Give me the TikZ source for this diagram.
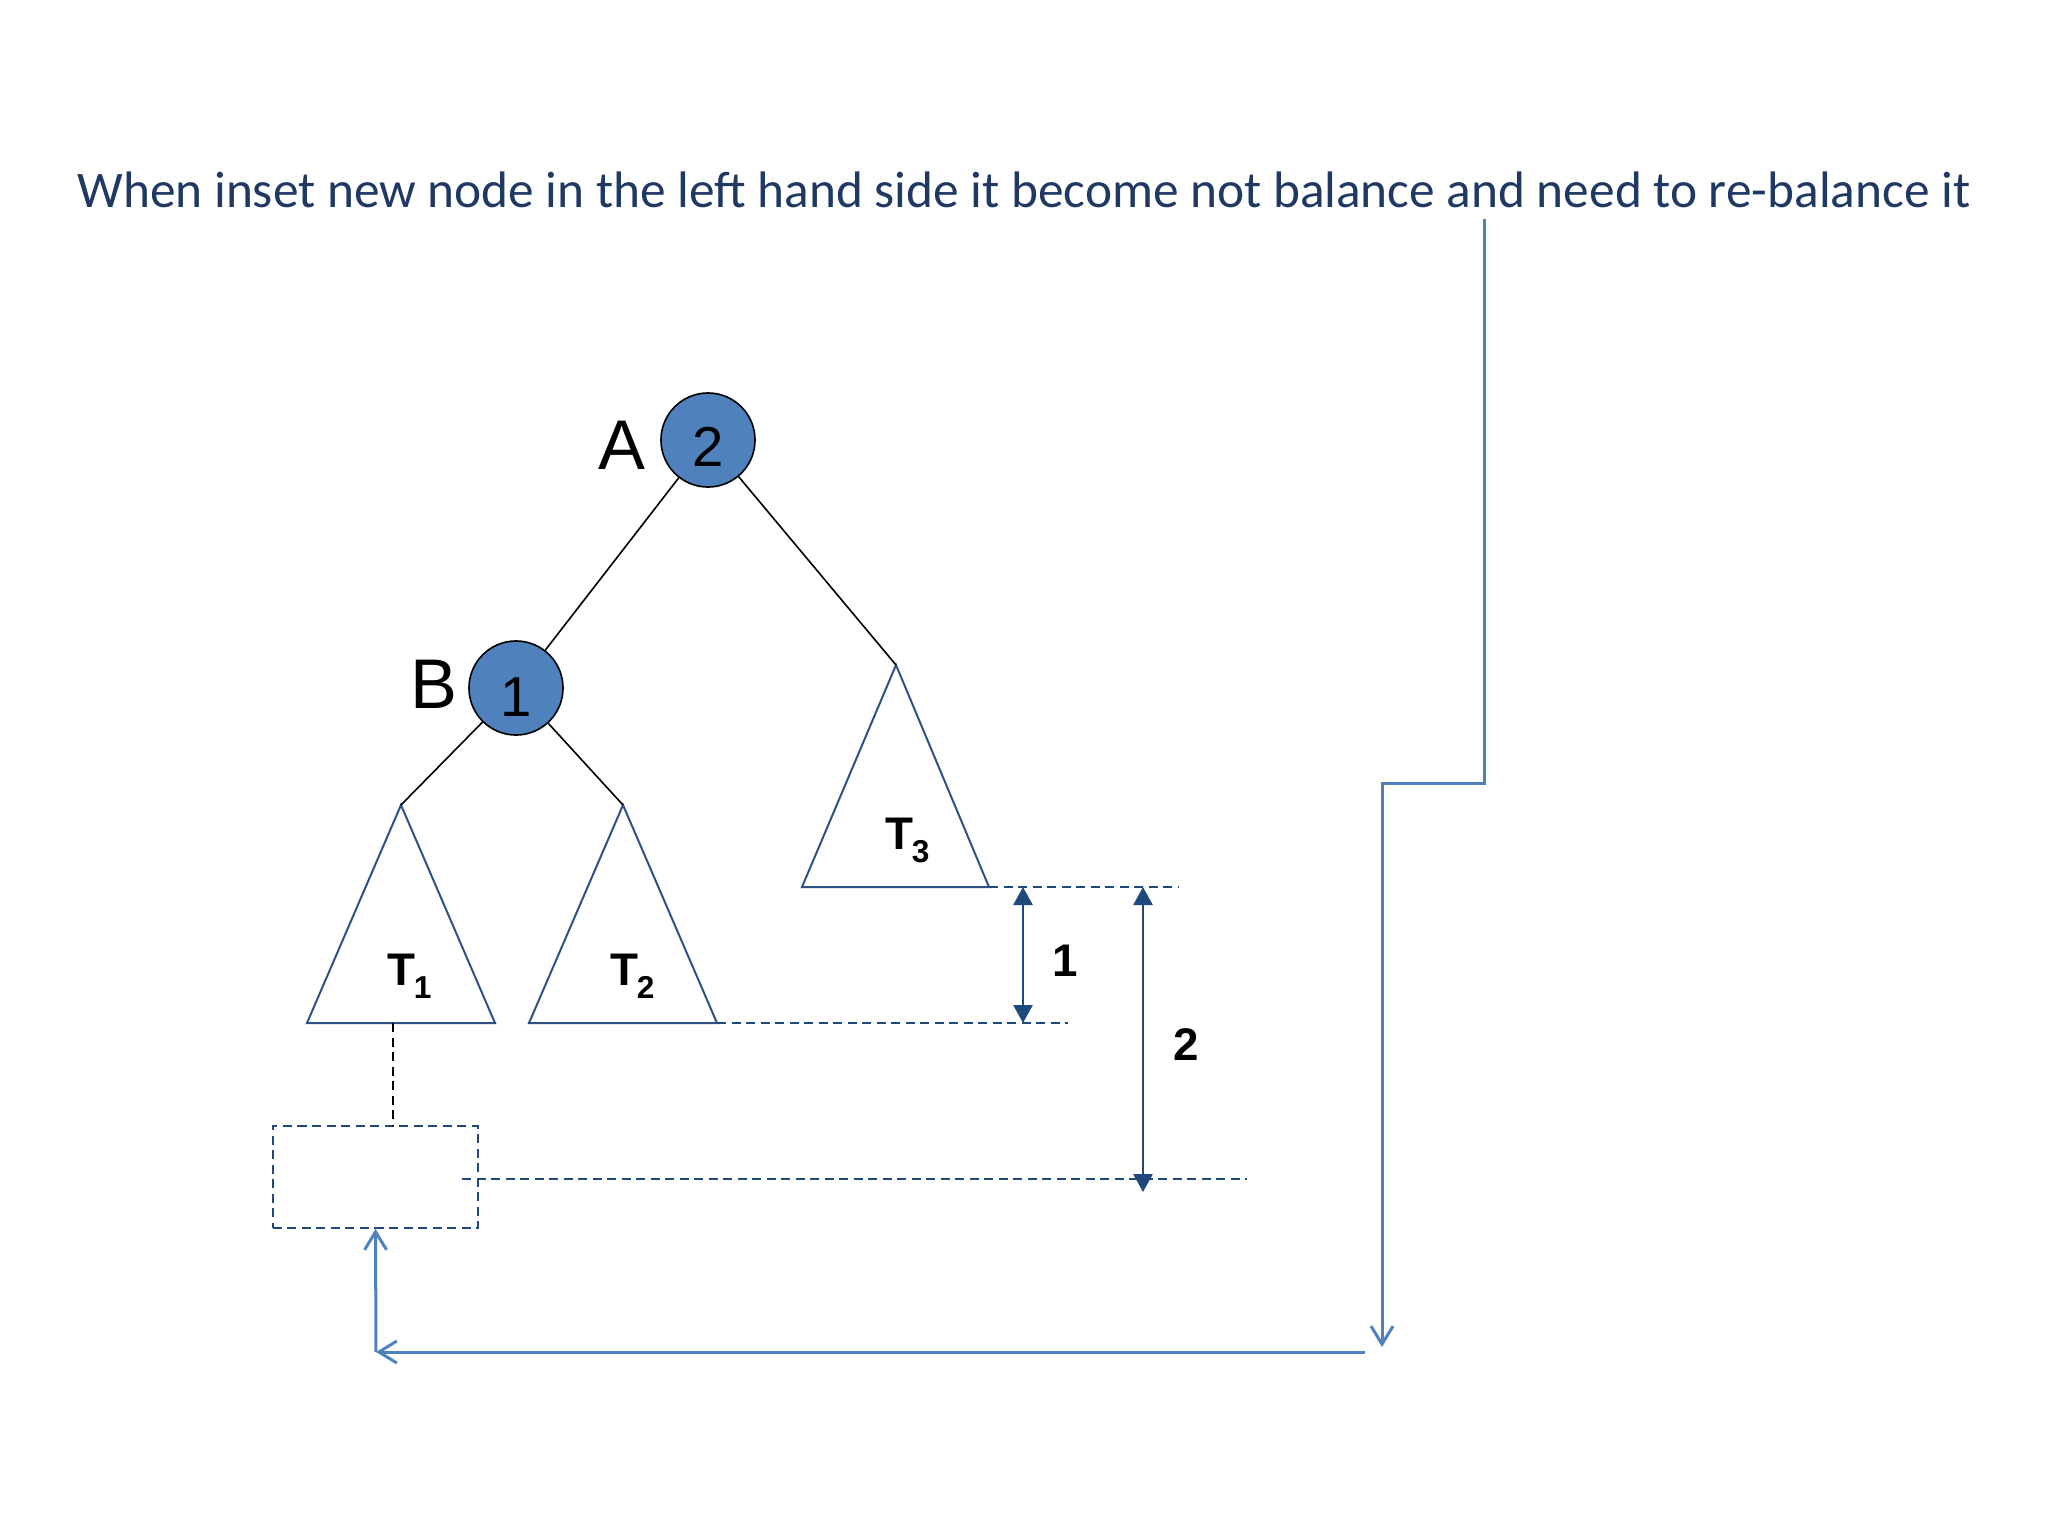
\documentclass[tikz,border=0pt]{standalone}
\usepackage{fontspec}
\setmainfont{Liberation Sans}
\newfontfamily\titlefont{Carlito}
\usetikzlibrary{arrows.meta}
\definecolor{titleblue}{HTML}{1F3864}
\definecolor{nodeblue}{HTML}{4F81BD}
\definecolor{treeblue}{HTML}{2C5286}
\definecolor{dimblue}{HTML}{1F497D}
\begin{document}
\begin{tikzpicture}[x=0.01cm,y=-0.01cm,
    tri/.style={draw=treeblue,line width=0.02cm,line join=miter},
    edge/.style={black,line width=0.016cm},
    avl/.style={circle,draw=black,fill=nodeblue,line width=0.016cm,minimum size=0.94cm,inner sep=0pt,font=\fontsize{16}{16}\selectfont},
    tag/.style={inner sep=0pt,font=\fontsize{20}{20}\selectfont},
    sub/.style={inner sep=0pt,font=\fontsize{13}{13}\selectfont\bfseries},
    dim/.style={dimblue,line width=0.028cm,{Triangle[length=0.18cm,width=0.19cm]}-{Triangle[length=0.18cm,width=0.19cm]}},
    guide/.style={dimblue,line width=0.018cm,dash pattern=on 0.09cm off 0.055cm},
    conn/.style={nodeblue,line width=0.03cm,-{Straight Barb[length=0.18cm,width=0.22cm]}}]
    \useasboundingbox (0,0) rectangle (2048,1536);
    \node[font=\titlefont\fontsize{14.6}{16}\selectfont,text=titleblue,anchor=base] (title) at (1024,207)
        {When inset new node in the left hand side it become not balance and need to re-balance it};
    % tree
    \node[avl] (A) at (708,440) {\raisebox{-0.07cm}[\height][0pt]{2}};
    \node[avl] (B) at (516,688) {\raisebox{-0.09cm}[\height][0pt]{1}};
    \node[tag] (Aname) at (622,445) {A};
    \node[tag] (Bname) at (434,684) {B};
    \coordinate (t1) at (401,805);
    \coordinate (t2) at (623,805);
    \coordinate (t3) at (896,665);
    \coordinate (t1foot) at (393,1023);
    \coordinate (t2r) at (717,1023);
    \coordinate (t3r) at (989,887);
    \draw[tri] (t1) -- (495,1023) -- (307,1023) -- cycle;
    \draw[tri] (t2) -- (t2r) -- (529,1023) -- cycle;
    \draw[tri] (t3) -- (t3r) -- (802,887) -- cycle;
    \node[sub,anchor=base west] (T1) at (387,985) {T\kern-0.5pt\raisebox{-0.13cm}{\fontsize{9}{9}\selectfont 1}};
    \node[sub,anchor=base west] (T2) at (610,985) {T\kern-0.5pt\raisebox{-0.13cm}{\fontsize{9}{9}\selectfont 2}};
    \node[sub,anchor=base west] (T3) at (885,849) {T\kern-0.5pt\raisebox{-0.13cm}{\fontsize{9}{9}\selectfont 3}};
    \draw[edge] (A) -- (B);
    \draw[edge] (A) -- (t3);
    \draw[edge] (B) -- (t1);
    \draw[edge] (B) -- (t2);
    % new node below T1
    \node[draw=dimblue,guide,minimum width=2.05cm,minimum height=1.02cm,inner sep=0pt] (new) at (375.5,1177) {};
    \draw[black,line width=0.018cm,dash pattern=on 0.09cm off 0.055cm] (t1foot) -- (t1foot |- new.north);
    % heights
    \draw[guide] (t3r) -- (1178,887);
    \draw[guide] (t2r) -- (1068,1023);
    \draw[guide] (462,1179) -- (1247,1179);
    \draw[dim] (1023,887) -- (1023,1023);
    \draw[dim] (1143,887) -- (1143,1192);
    \node[sub] (h1) at (1065,961) {1};
    \node[sub] (h2) at (1186,1045) {2};
    % connector
    \coordinate (drop) at (1484,219);
    \coordinate (turn) at (376,1352);
    \draw[conn] (drop) |- (1382,783) -- (1382,1347);
    \draw[conn] (1365,1352) -- (turn);
    \draw[conn] (turn) -- (new.south);
\end{tikzpicture}
\end{document}
